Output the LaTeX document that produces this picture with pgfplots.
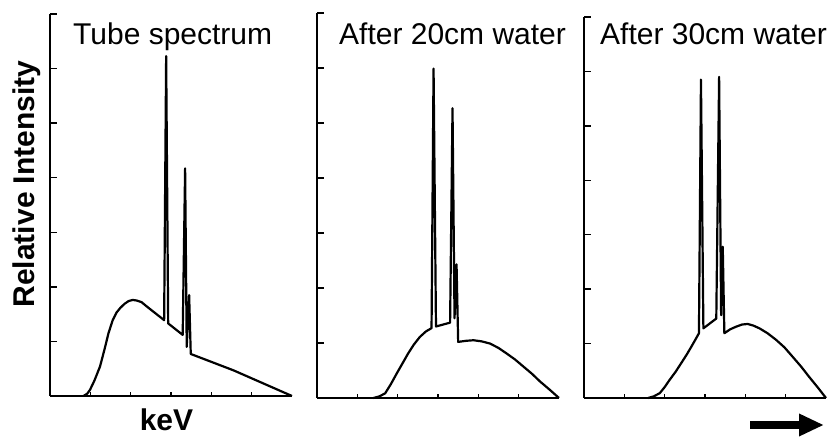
\documentclass[border=0pt]{standalone}
\usepackage{fontspec}
\setmainfont{Liberation Sans}
\usepackage{pgfplots}
\pgfplotsset{compat=1.18}
\usetikzlibrary{arrows.meta}

\pgfplotsset{
  spec/.style={
    scale only axis,
    width=242pt,
    xmin=0, xmax=6, ymin=0, ymax=7,
    axis lines=left,
    axis line style={-, line width=2pt},
    xtick={1,...,5}, ytick={1,...,7},
    xticklabels={}, yticklabels={},
    tick align=inside,
    tick style={black, line width=1.3pt},
    major tick length=7pt,
    xtick style={/pgfplots/major tick length=3.5pt},
    clip=false,
  },
  curve/.style={black, line width=2.2pt, line join=round, mark=none},
}

\begin{document}
\begin{tikzpicture}[x=1pt, y=1pt]
\useasboundingbox (0,0) rectangle (828,438);

% panel 1: tube spectrum
\begin{axis}[spec, height=382pt, at={(50pt,42pt)}, anchor=south west]
\addplot[curve] coordinates {
 (0.83,0) (0.92,0.04) (0.99,0.11) (1.10,0.28) (1.24,0.54) (1.35,0.85)
 (1.45,1.15) (1.55,1.38) (1.65,1.53) (1.75,1.62) (1.85,1.69) (1.95,1.74)
 (2.05,1.76) (2.15,1.75) (2.27,1.72) (2.40,1.64) (2.83,1.39) (2.88,6.23)
 (2.93,1.33) (3.29,1.12) (3.35,4.17) (3.39,0.90) (3.45,1.85) (3.49,0.77)
 (4.55,0.47) (6,0)
};
\end{axis}

% panel 2: after 20cm water
\begin{axis}[spec, height=385pt, at={(317pt,40pt)}, anchor=south west]
\addplot[curve] coordinates {
 (1.40,0) (1.55,0.03) (1.69,0.085) (1.83,0.25) (1.98,0.45) (2.12,0.63)
 (2.26,0.81) (2.40,0.97) (2.55,1.11) (2.70,1.21) (2.84,1.27)
 (2.89,5.99) (2.95,1.30) (3.30,1.37) (3.36,5.27) (3.41,1.45) (3.46,2.43)
 (3.50,1.02) (3.70,1.04) (3.88,1.05) (4.08,1.03) (4.29,0.99) (4.50,0.91)
 (4.70,0.81) (4.91,0.70) (5.12,0.57) (5.33,0.44) (5.53,0.30) (5.77,0.15)
 (6,0)
};
\end{axis}

% panel 3: after 30cm water
\begin{axis}[spec, height=381pt, at={(584pt,40pt)}, anchor=south west]
\addplot[curve] coordinates {
 (1.59,0) (1.73,0.03) (1.88,0.09) (2.00,0.20) (2.12,0.33) (2.27,0.48)
 (2.41,0.64) (2.54,0.79) (2.66,0.94) (2.76,1.07) (2.85,1.19)
 (2.90,5.85) (2.96,1.28) (3.28,1.46) (3.35,5.90) (3.40,1.52) (3.44,2.78)
 (3.48,1.19) (3.62,1.26) (3.77,1.31) (3.92,1.35) (4.06,1.36) (4.20,1.33)
 (4.35,1.28) (4.55,1.19) (4.76,1.07) (4.97,0.93) (5.17,0.76) (5.38,0.58)
 (5.58,0.39) (5.80,0.19) (6,0)
};
\end{axis}

\fontsize{30}{36}\selectfont
\node[anchor=base west, inner sep=0] at (73,393) {Tube spectrum};
\node[anchor=base west, inner sep=0] at (339,393) {After 20cm water};
\node[anchor=base west, inner sep=0] at (600,393) {After 30cm water};

\node[anchor=base, inner sep=0, rotate=90] at (34,254) {\bfseries Relative Intensity};
\node[anchor=base, inner sep=0] at (166.5,7) {\bfseries keV};

\draw[line width=7.5pt, -{Triangle[length=25pt,width=21pt]}] (750,13) -- (824,13);
\end{tikzpicture}
\end{document}
